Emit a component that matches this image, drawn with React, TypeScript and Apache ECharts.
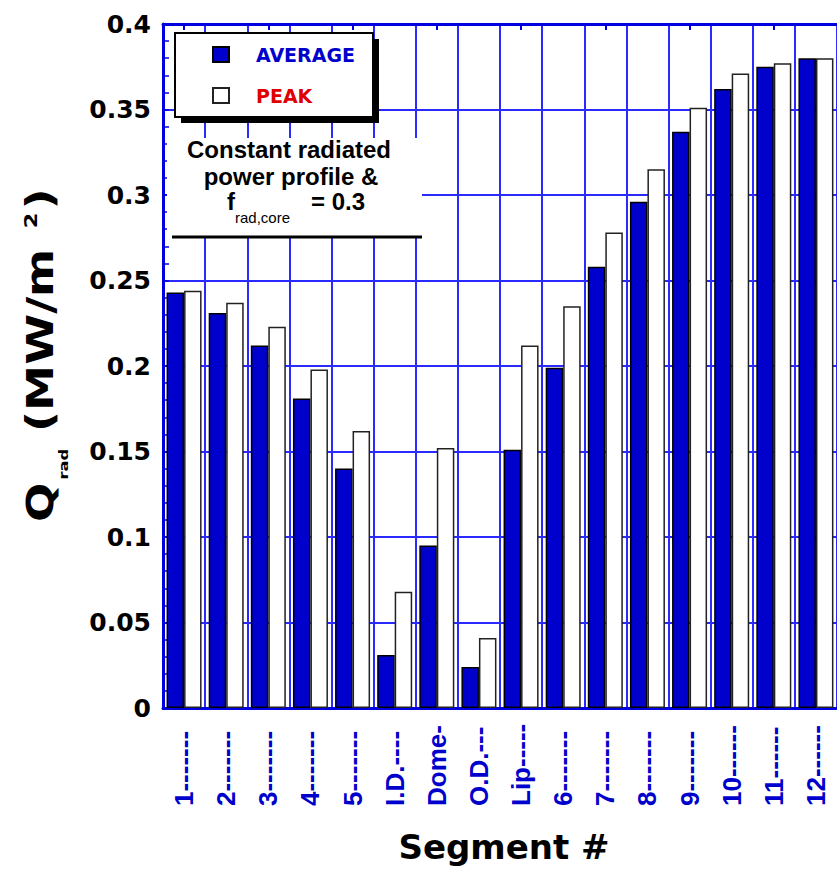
import React, { useEffect, useRef } from 'react';
import * as echarts from 'echarts';

const segmentLabels = [
  '1-------', '2-------', '3-------', '4-------', '5-------', 'I.D.----', 'Dome-', 'O.D.---',
  'Lip-----', '6-------', '7-------', '8-------', '9-------', '10------', '11------', '12------',
];
const averageValues = [0.243, 0.231, 0.212, 0.181, 0.140, 0.031, 0.095, 0.024, 0.151, 0.199, 0.258, 0.296, 0.337, 0.362, 0.375, 0.380];
const peakValues = [0.244, 0.237, 0.223, 0.198, 0.162, 0.068, 0.152, 0.041, 0.212, 0.235, 0.278, 0.315, 0.351, 0.371, 0.377, 0.380];

const BLUE = '#0000cc';
const GRID_BLUE = '#2a2aff';
const AXIS_BLUE = '#0000e0';
const WIDE = 'DejaVu Sans';
const ARIAL = 'Liberation Sans';

function buildOption() {
  return {
    animation: false,
    backgroundColor: '#ffffff',
    grid: { left: 163, top: 24, width: 681.6, height: 684, containLabel: false },
    legend: {
      orient: 'vertical',
      left: 212,
      top: 45,
      padding: 0,
      itemWidth: 16,
      itemHeight: 15,
      itemGap: 22,
      z: 10,
      icon: 'rect',
      selectedMode: false,
      textStyle: { fontFamily: WIDE, fontWeight: 'bold', fontSize: 19, padding: [0, 0, 0, 22] },
      data: [
        { name: 'AVERAGE', textStyle: { color: BLUE } },
        { name: 'PEAK', textStyle: { color: '#e00000' } },
      ],
    },
    xAxis: [
      {
        type: 'category',
        data: segmentLabels,
        boundaryGap: true,
        name: 'Segment #',
        nameLocation: 'middle',
        nameGap: 122,
        nameTextStyle: { fontFamily: WIDE, fontWeight: 'bold', fontSize: 34, color: '#000', padding: [0, 0, 0, 8] },
        axisLine: { show: true, lineStyle: { color: AXIS_BLUE, width: 3 } },
        axisTick: { show: false },
        splitLine: { show: true, interval: 0, lineStyle: { color: GRID_BLUE, width: 2 } },
        axisLabel: {
          interval: 0,
          rotate: 90,
          align: 'left',
          margin: 98,
          color: BLUE,
          fontFamily: ARIAL,
          fontWeight: 'bold',
          fontSize: 26,
        },
      },
      {
        type: 'category',
        position: 'top',
        data: segmentLabels,
        boundaryGap: true,
        axisLine: { show: true, onZero: false, lineStyle: { color: AXIS_BLUE, width: 3 } },
        axisTick: { show: true, inside: true, alignWithLabel: true, length: 6, lineStyle: { color: AXIS_BLUE, width: 2 } },
        axisLabel: { show: false },
        splitLine: { show: false },
      },
    ],
    yAxis: {
      type: 'value',
      min: 0,
      max: 0.4,
      interval: 0.05,
      axisLine: { show: true, lineStyle: { color: AXIS_BLUE, width: 3 } },
      axisTick: { show: true, inside: true, length: 6, lineStyle: { color: AXIS_BLUE, width: 1.5 } },
      minorTick: { show: true, splitNumber: 5, length: 6, lineStyle: { color: AXIS_BLUE, width: 1.5 } },
      splitLine: { show: true, lineStyle: { color: GRID_BLUE, width: 2 } },
      axisLabel: { margin: 12, color: '#000', fontFamily: WIDE, fontWeight: 'bold', fontSize: 25 },
    },
    series: [
      {
        type: 'bar',
        name: 'AVERAGE',
        data: averageValues,
        barWidth: 17.5,
        barGap: '0%',
        itemStyle: { color: BLUE, borderColor: '#000', borderWidth: 1.5 },
      },
      {
        type: 'bar',
        name: 'PEAK',
        data: peakValues,
        barWidth: 17.5,
        barGap: '0%',
        itemStyle: { color: '#ffffff', borderColor: '#222', borderWidth: 1.5 },
      },
    ],
    graphic: [
      { type: 'rect', z: 5, shape: { x: 181, y: 39, width: 198, height: 84 }, style: { fill: '#000' } },
      { type: 'rect', z: 5, shape: { x: 175, y: 33, width: 198, height: 84 }, style: { fill: '#fff', stroke: '#000', lineWidth: 2 } },
      { type: 'rect', z: 5, shape: { x: 167, y: 138, width: 255, height: 98 }, style: { fill: '#fff' } },
      { type: 'line', z: 5, shape: { x1: 172, y1: 237, x2: 422, y2: 237 }, style: { stroke: '#000', lineWidth: 3 } },
      {
        type: 'text', z: 6,
        style: { text: 'Constant radiated', x: 289, y: 149.7, textAlign: 'center', textVerticalAlign: 'middle', fontFamily: ARIAL, fontWeight: 'bold', fontSize: 24, fill: '#000' },
      },
      {
        type: 'text', z: 6,
        style: { text: 'power profile &', x: 291, y: 176.7, textAlign: 'center', textVerticalAlign: 'middle', fontFamily: ARIAL, fontWeight: 'bold', fontSize: 24, fill: '#000' },
      },
      {
        type: 'text', z: 6,
        style: { text: 'f', x: 227, y: 201.7, textAlign: 'left', textVerticalAlign: 'middle', fontFamily: ARIAL, fontWeight: 'bold', fontSize: 24, fill: '#000' },
      },
      {
        type: 'text', z: 6,
        style: { text: 'rad,core', x: 235, y: 217.8, textAlign: 'left', textVerticalAlign: 'middle', fontFamily: ARIAL, fontSize: 15, fill: '#000' },
      },
      {
        type: 'text', z: 6,
        style: { text: '= 0.3', x: 311, y: 201.7, textAlign: 'left', textVerticalAlign: 'middle', fontFamily: ARIAL, fontWeight: 'bold', fontSize: 24, fill: '#000' },
      },
      {
        type: 'group',
        x: 53,
        y: 522,
        rotation: Math.PI / 2,
        scaleX: 1.25,
        scaleY: 1,
        z: 6,
        children: [
          { type: 'text', style: { text: 'Q', x: 0, y: -12.8, textAlign: 'left', textVerticalAlign: 'middle', fontFamily: WIDE, fontWeight: 'bold', fontSize: 37, fill: '#000' } },
          { type: 'text', style: { text: 'rad', x: 34, y: 10.5, textAlign: 'left', textVerticalAlign: 'middle', fontFamily: WIDE, fontWeight: 'bold', fontSize: 13, fill: '#000' } },
          { type: 'text', style: { text: '(MW/m', x: 72, y: -12.8, textAlign: 'left', textVerticalAlign: 'middle', fontFamily: WIDE, fontWeight: 'bold', fontSize: 37, fill: '#000' } },
          { type: 'text', style: { text: '2', x: 235, y: -22.2, textAlign: 'left', textVerticalAlign: 'middle', fontFamily: WIDE, fontWeight: 'bold', fontSize: 18, fill: '#000' } },
          { type: 'text', style: { text: ')', x: 250, y: -12.8, textAlign: 'left', textVerticalAlign: 'middle', fontFamily: WIDE, fontWeight: 'bold', fontSize: 37, fill: '#000' } },
        ],
      },
    ],
  };
}

export default function App() {
  const ref = useRef<HTMLDivElement>(null);
  useEffect(() => {
    document.body.style.margin = '0';
    const chart = echarts.init(ref.current as HTMLDivElement, null, { renderer: 'svg' });
    chart.setOption(buildOption() as any);
    return () => chart.dispose();
  }, []);
  return <div ref={ref} style={{ width: 837, height: 871, overflow: 'hidden' }} />;
}
